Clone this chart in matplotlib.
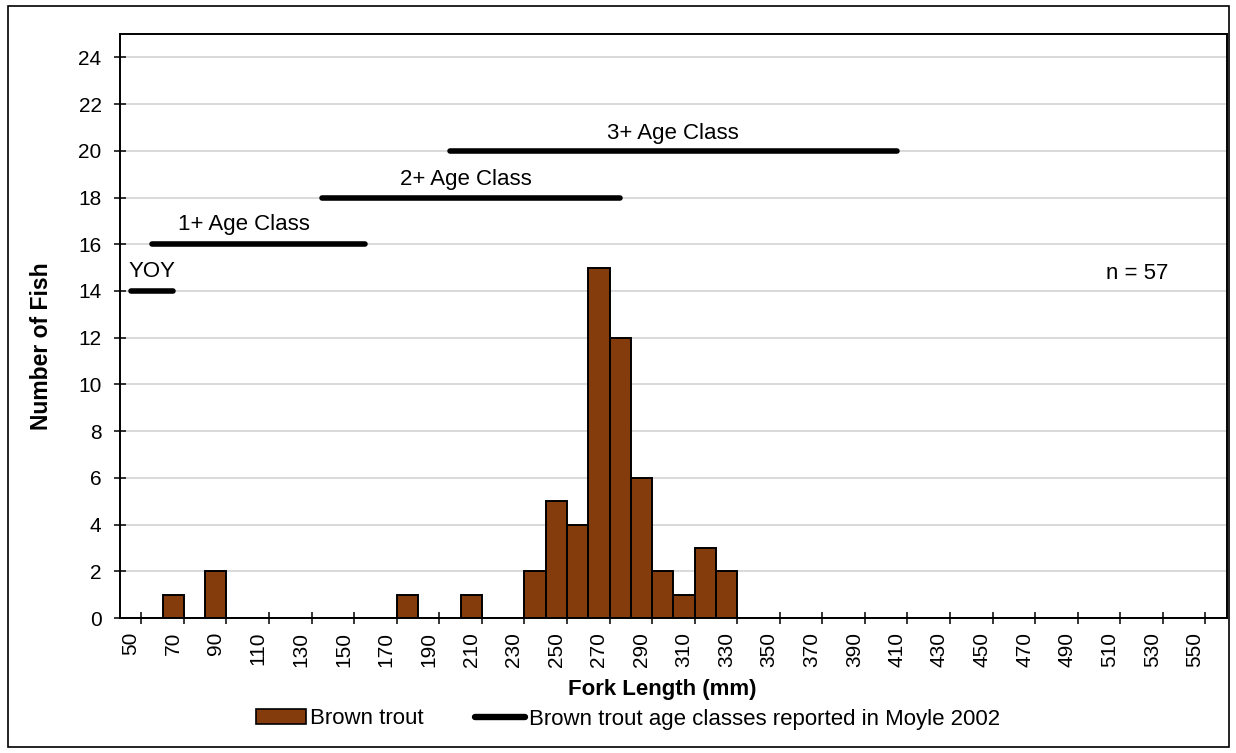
import matplotlib
matplotlib.use("Agg")
import matplotlib.pyplot as plt
from matplotlib.patches import Rectangle, Patch
from matplotlib.lines import Line2D
import numpy as np

plt.rcParams['font.family'] = ['Liberation Sans', 'DejaVu Sans']

# Fork length bins (mm) and number of brown trout in each
length_bins = list(range(50, 570, 10))
fish_counts = [0, 0, 1, 0, 2, 0, 0, 0, 0, 0, 0, 0, 0, 1, 0, 0, 1, 0, 0, 2,
               5, 4, 15, 12, 6, 2, 1, 3, 2, 0, 0, 0, 0, 0, 0, 0, 0, 0, 0, 0,
               0, 0, 0, 0, 0, 0, 0, 0, 0, 0, 0, 0]

# Age-class length ranges (mm) from Moyle 2002
age_labels = ["YOY", "1+ Age Class", "2+ Age Class", "3+ Age Class"]
age_start = [50, 60, 140, 200]
age_end = [70, 160, 280, 410]
age_level = [14, 16, 18, 20]

sample_note = "n = 57"

BAR_COLOR = "#843C0C"
FS = 16
TICK_FS = 15
LINE_W = 4.0

W, H = 1236, 753
fig = plt.figure(figsize=(W / 100, H / 100), dpi=100)
ax = fig.add_axes([120 / W, 1 - 618 / H, (1226.7 - 120) / W, (618 - 34) / H])

# outer chart border
fig.patches.append(Rectangle((8 / W, 6 / H), (1229 - 8) / W, (747 - 6) / H,
                             transform=fig.transFigure, fill=False,
                             edgecolor="black", linewidth=1.2))

idx = np.arange(len(length_bins))
ax.bar(idx, fish_counts, width=1.0, color=BAR_COLOR, edgecolor="black",
       linewidth=1.4, zorder=3)


def to_idx(mm):
    return (mm - length_bins[0]) / 10.0


# label shift along x (in bins) relative to the middle of each range
label_shift = [0.0, -0.7, -0.25, 0.0]
label_rise = [0.85, 0.85, 0.78, 0.72]
for lab, s, e, lev, dx, dy in zip(age_labels, age_start, age_end, age_level,
                                  label_shift, label_rise):
    x0, x1 = to_idx(s), to_idx(e)
    ax.plot([x0, x1], [lev, lev], color="black", linewidth=LINE_W,
            solid_capstyle="round", zorder=4)
    ax.text((x0 + x1) / 2 + dx, lev + dy, lab, ha="center", va="center",
            fontsize=FS, zorder=5)

ax.text(47.3, 14.75, sample_note, ha="center", va="center", fontsize=FS)

ax.set_xlim(-0.5, len(length_bins) - 0.5)
ax.set_ylim(0, 25)

ax.set_yticks(range(0, 25, 2))
ax.yaxis.grid(True, color="#d9d9d9", linewidth=1.4, zorder=0)
ax.set_axisbelow(True)
ax.tick_params(axis="y", direction="inout", length=8.5, width=1.1,
               labelsize=TICK_FS, pad=9)

major = idx[::2]
ax.set_xticks(major)
ax.set_xticklabels([str(length_bins[i]) for i in major], rotation=90)
ax.set_xticks(np.arange(0.5, len(length_bins) - 1, 2), minor=True)
ax.tick_params(axis="x", which="major", length=0, labelsize=TICK_FS, pad=10)
ax.tick_params(axis="x", which="minor", direction="inout", length=8.5, width=1.1)

for sp in ax.spines.values():
    sp.set_linewidth(1.4)
    sp.set_color("black")

fig.text(42 / W, 1 - 346 / H, "Number of Fish", rotation=90, ha="center",
         va="center", fontsize=16.5, fontweight="bold")
fig.text(662 / W, 1 - 690 / H, "Fork Length (mm)", ha="center", va="center",
         fontsize=FS, fontweight="bold")

handles = [Patch(facecolor=BAR_COLOR, edgecolor="black", linewidth=1.2),
           Line2D([0], [0], color="black", linewidth=LINE_W + 0.6,
                  solid_capstyle="round")]
fig.legend(handles, ["Brown trout", "Brown trout age classes reported in Moyle 2002"],
           loc="center", bbox_to_anchor=(628 / W, 1 - 719 / H), ncol=2,
           frameon=False, fontsize=FS, handlelength=2.25, handleheight=0.65,
           handletextpad=0.2, columnspacing=2.3)

fig.savefig("out.png", dpi=100)
